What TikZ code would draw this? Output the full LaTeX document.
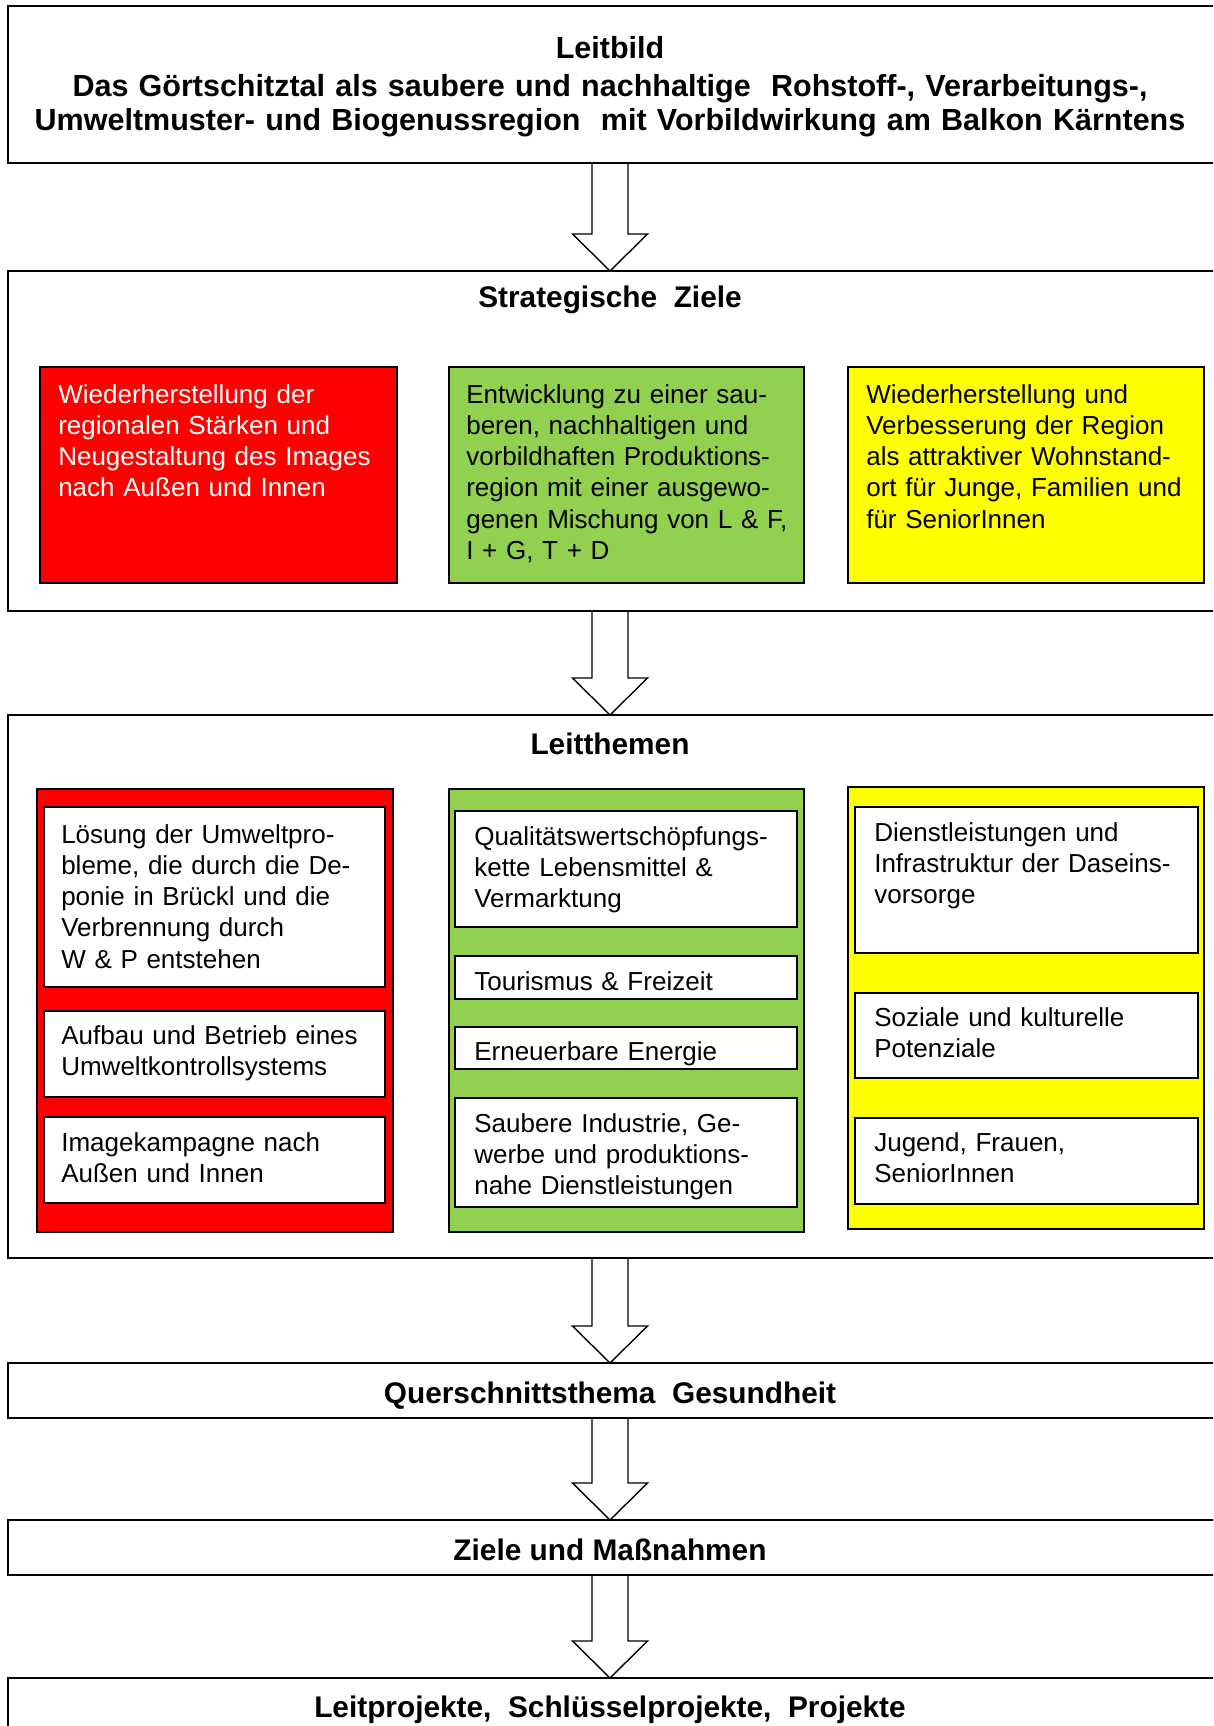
\documentclass[tikz,border=0pt]{standalone}
\usepackage{fontspec}
\setmainfont{Liberation Sans}
\usetikzlibrary{calc,fit}
\definecolor{cred}{RGB}{255,0,0}
\definecolor{cgreen}{RGB}{146,208,80}
\definecolor{cyellow}{RGB}{255,255,0}
\newcommand\blockarrow[2]{%
  \draw[arrowline] ($(ax |- #1.south)+(-18,0)$) -- ($(ax |- #2.north)+(-18,-37)$)
    -- ($(ax |- #2.north)+(-37.5,-37)$) -- (ax |- #2.north)
    -- ($(ax |- #2.north)+(37.5,-37)$) -- ($(ax |- #2.north)+(18,-37)$)
    -- ($(ax |- #1.south)+(18,0)$);}
\begin{document}
\begin{tikzpicture}[x=0.025cm, y=-0.025cm,
  outerbox/.style={draw=black, line width=1.6pt, inner sep=0pt, outer sep=0pt, fill=white},
  colbox/.style={draw=black, line width=1.4pt, inner sep=0pt, outer sep=0pt, fill=#1},
  whitebox/.style={draw=black, line width=1.4pt, inner sep=0pt, outer sep=0pt, fill=white},
  bodytext/.style={font=\fontsize{18.5}{22.26}\selectfont, text width=9cm, align=left, inner sep=0pt, anchor=base west},
  titletext/.style={font=\fontsize{21.2}{24.2}\selectfont\bfseries, inner sep=0pt, anchor=base},
  bigtitle/.style={font=\fontsize{21.7}{24.2}\selectfont\bfseries, inner sep=0pt, anchor=base, align=center, text width=30.25cm},
  arrowline/.style={draw=black, line width=1pt, line join=miter}]
\useasboundingbox (0,0) rectangle (1213,1726);
\fill[white] (0,0) rectangle (1213,1726);
\clip (0,0) rectangle (1213,1726);
\coordinate (ax) at (610,0);

% Leitbild
\node[outerbox, fit={(8,6) (1240,163)}] (leitbild) {};
\node[bigtitle] (tleitbild) at (610,59) {Leitbild\\[2.7pt]Das Görtschitztal als saubere und nachhaltige\ \ Rohstoff-, Verarbeitungs-,\\Umweltmuster- und Biogenussregion\ \ mit Vorbildwirkung am Balkon Kärntens};

% Strategische Ziele
\node[outerbox, fit={(8,271) (1240,611)}] (strat) {};
\node[titletext] (tstrat) at (610,308) {Strategische\ \ Ziele};
\node[colbox=cred, fit={(40,367) (397,583)}] (sred) {};
\node[colbox=cgreen, fit={(449,367) (804,583)}] (sgreen) {};
\node[colbox=cyellow, fit={(848,367) (1204,583)}] (syellow) {};
\node[bodytext, text=white] (sredt) at ($(sred.north west)+(18,36)$) {Wiederherstellung der\\regionalen Stärken und\\Neugestaltung des Images\\nach Außen und Innen};
\node[bodytext] (sgreent) at ($(sgreen.north west)+(17,36)$) {Entwicklung zu einer sau-\\beren, nachhaltigen und\\vorbildhaften Produktions-\\region mit einer ausgewo-\\genen Mischung von L \& F,\\I + G, T + D};
\node[bodytext] (syellowt) at ($(syellow.north west)+(18,36)$) {Wiederherstellung und\\Verbesserung der Region\\als attraktiver Wohnstand-\\ort für Junge, Familien und\\für SeniorInnen};

% Leitthemen
\node[outerbox, fit={(8,715) (1240,1258)}] (leit) {};
\node[titletext] (tleit) at (610,754) {Leitthemen};
\node[colbox=cred, fit={(37,789) (393,1232)}] (lred) {};
\node[colbox=cgreen, fit={(449,789) (804,1232)}] (lgreen) {};
\node[colbox=cyellow, fit={(848,787) (1204,1229)}] (lyellow) {};

\node[whitebox, fit={(44,807) (385,987)}] (lr1) {};
\node[whitebox, fit={(44,1011) (385,1097)}] (lr2) {};
\node[whitebox, fit={(44,1117) (385,1203)}] (lr3) {};
\node[bodytext] (lr1t) at ($(lr1.north west)+(17,36)$) {Lösung der Umweltpro-\\bleme, die durch die De-\\ponie in Brückl und die\\Verbrennung durch\\W \& P entstehen};
\node[bodytext] (lr2t) at ($(lr2.north west)+(17,33)$) {Aufbau und Betrieb eines\\Umweltkontrollsystems};
\node[bodytext] (lr3t) at ($(lr3.north west)+(17,34)$) {Imagekampagne nach\\Außen und Innen};

\node[whitebox, fit={(455,811) (797,927)}] (lg1) {};
\node[whitebox, fit={(455,956) (797,999)}] (lg2) {};
\node[whitebox, fit={(455,1027) (797,1069)}] (lg3) {};
\node[whitebox, fit={(455,1098) (797,1207)}] (lg4) {};
\node[bodytext] (lg1t) at ($(lg1.north west)+(19,34)$) {Qualitätswertschöpfungs-\\kette Lebensmittel \&\\Vermarktung};
\node[bodytext] (lg2t) at ($(lg2.north west)+(19,34)$) {Tourismus \& Freizeit};
\node[bodytext] (lg3t) at ($(lg3.north west)+(19,33)$) {Erneuerbare Energie};
\node[bodytext] (lg4t) at ($(lg4.north west)+(19,34)$) {Saubere Industrie, Ge-\\werbe und produktions-\\nahe Dienstleistungen};

\node[whitebox, fit={(855,807) (1198,953)}] (ly1) {};
\node[whitebox, fit={(855,993) (1198,1078)}] (ly2) {};
\node[whitebox, fit={(855,1118) (1198,1204)}] (ly3) {};
\node[bodytext] (ly1t) at ($(ly1.north west)+(19,34)$) {Dienstleistungen und\\Infrastruktur der Daseins-\\vorsorge};
\node[bodytext] (ly2t) at ($(ly2.north west)+(19,33)$) {Soziale und kulturelle\\Potenziale};
\node[bodytext] (ly3t) at ($(ly3.north west)+(19,33)$) {Jugend, Frauen,\\SeniorInnen};

% lower boxes
\node[outerbox, fit={(8,1363) (1240,1418)}] (quer) {};
\node[titletext] (tquer) at (610,1403) {Querschnittsthema\ \ Gesundheit};
\node[outerbox, fit={(8,1520) (1240,1575)}] (ziele) {};
\node[titletext] (tziele) at (610,1560) {Ziele und Maßnahmen};
\node[outerbox, fit={(8,1678) (1240,1780)}] (proj) {};
\node[titletext] (tproj) at (610,1717) {Leitprojekte,\ \ Schlüsselprojekte,\ \ Projekte};

% arrows
\blockarrow{leitbild}{strat}
\blockarrow{strat}{leit}
\blockarrow{leit}{quer}
\blockarrow{quer}{ziele}
\blockarrow{ziele}{proj}
\end{tikzpicture}
\end{document}
